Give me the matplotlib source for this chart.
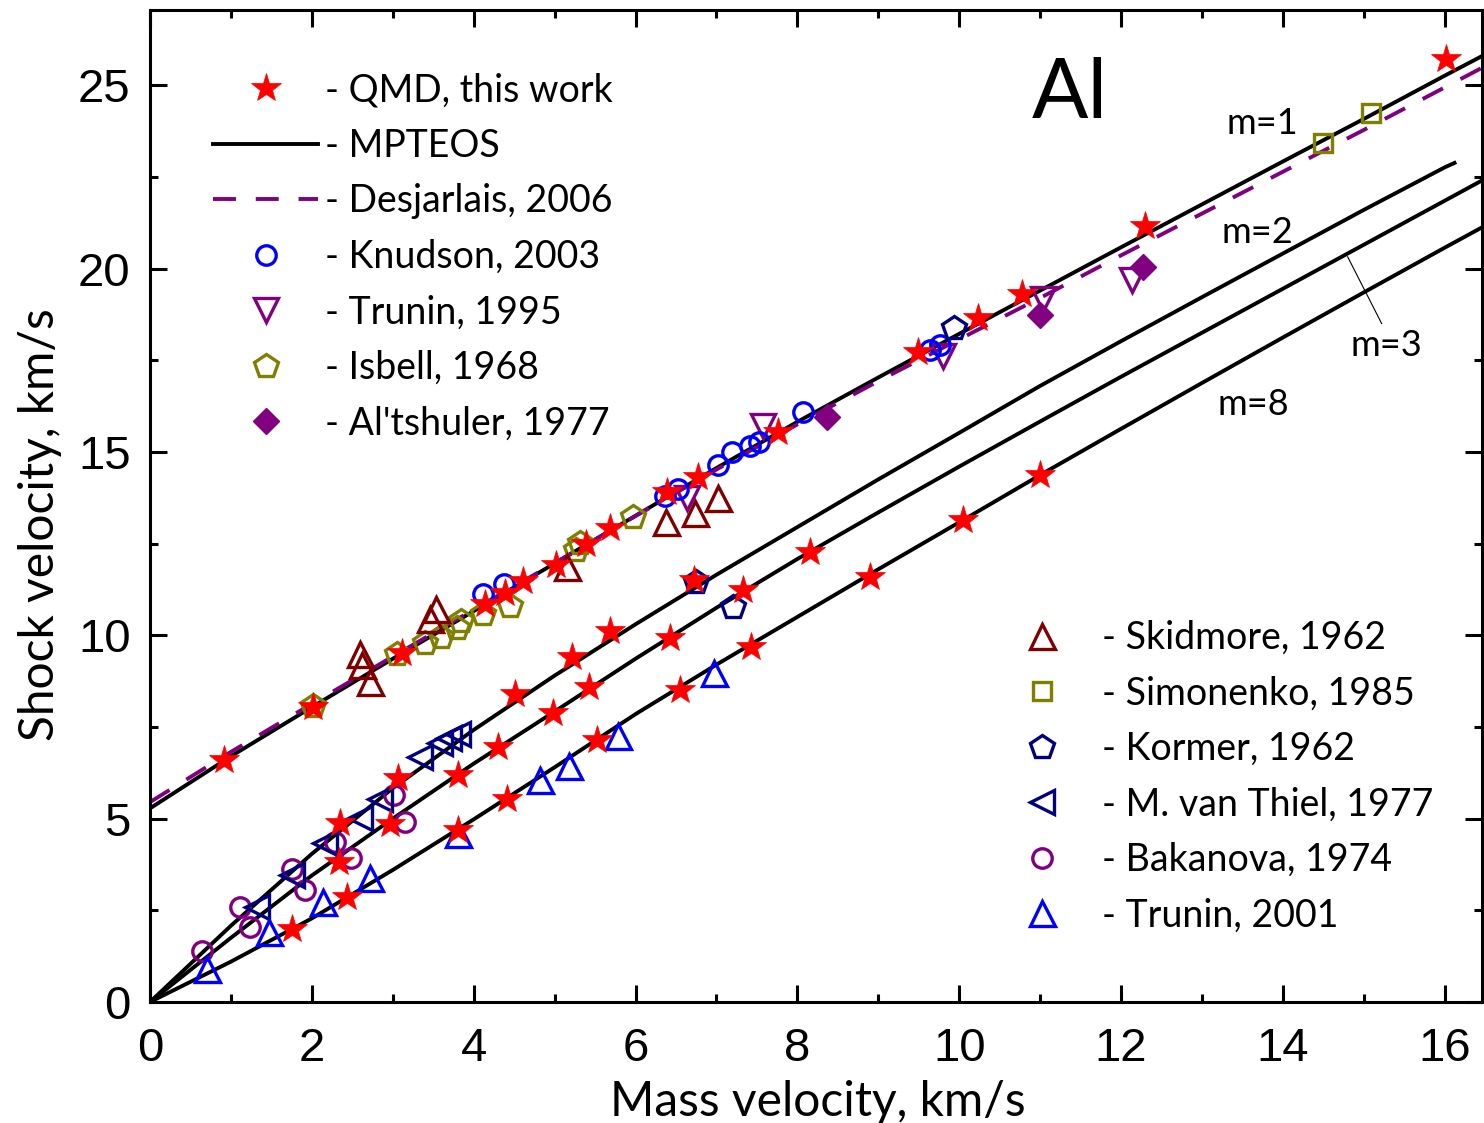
"""Al shock Hugoniot: shock velocity vs mass velocity, QMD vs MPTEOS and experiments."""

import matplotlib

matplotlib.use("Agg")
import matplotlib.pyplot as plt
from matplotlib.lines import Line2D

plt.rcParams["font.family"] = ["Lato", "DejaVu Sans"]

# ---------------------------------------------------------------- curves
# MPTEOS Hugoniots for porosity m = 1, 2, 3, 8 and Desjarlais (2006) QMD fit
U_GRID = [0, 1, 2, 3, 4, 5, 6, 7, 8, 9, 10, 11, 12, 13, 14, 15, 16, 16.5]
US_M1 = [5.28, 6.70, 8.04, 9.36, 10.66, 11.96, 13.26, 14.56, 15.82, 17.03,
         18.22, 19.40, 20.58, 21.75, 22.92, 24.08, 25.26, 25.84]
US_DESJ = [5.45, 6.82, 8.13, 9.42, 10.70, 11.97, 13.25, 14.52, 15.75, 16.93,
           18.07, 19.20, 20.36, 21.50, 22.64, 23.78, 24.94, 25.52]
U_M2 = [0, 1, 2, 3, 4, 5, 6, 7, 8, 9, 10, 11, 12, 13, 14, 15, 16, 16.12]
US_M2 = [0.0, 2.08, 4.04, 5.83, 7.42, 8.90, 10.30, 11.65, 12.95, 14.25,
         15.52, 16.80, 18.02, 19.22, 20.41, 21.60, 22.76, 22.88]
US_M3 = [0.0, 1.75, 3.45, 5.00, 6.50, 7.92, 9.36, 10.75, 12.08, 13.35,
         14.60, 15.83, 17.05, 18.25, 19.45, 20.65, 21.85, 22.45]
US_M8 = [0.0, 1.10, 2.28, 3.60, 4.98, 6.40, 7.85, 9.20, 10.50, 11.80,
         13.08, 14.37, 15.63, 16.88, 18.12, 19.35, 20.57, 21.17]

# ---------------------------------------------------------------- QMD points
QMD_U = [0.91, 2.02, 3.12, 4.14, 4.39, 4.61, 5.02, 5.39, 5.69, 6.39, 6.77,
         7.76, 9.49, 10.23, 10.77, 12.29, 16.02,
         2.35, 3.06, 4.51, 5.22, 5.68, 6.72,
         2.34, 2.97, 3.81, 4.30, 4.98, 5.42, 6.42, 7.33, 8.15,
         1.75, 2.43, 3.81, 4.41, 5.52, 6.55, 7.43, 8.90, 10.05, 11.00]
QMD_US = [6.60, 8.05, 9.53, 10.85, 11.16, 11.48, 11.91, 12.50, 12.93, 13.90, 14.32,
          15.53, 17.73, 18.64, 19.30, 21.17, 25.71,
          4.87, 6.10, 8.40, 9.41, 10.12, 11.50,
          3.81, 4.85, 6.20, 6.94, 7.87, 8.60, 9.93, 11.23, 12.28,
          2.00, 2.87, 4.69, 5.53, 7.14, 8.51, 9.69, 11.60, 13.14, 14.37]

# ---------------------------------------------------------------- experiments
KNUDSON_U = [4.12, 4.37, 6.36, 6.53, 7.02, 7.19, 7.42, 7.52, 8.07, 9.64, 9.76]
KNUDSON_US = [11.13, 11.41, 13.80, 14.00, 14.64, 15.00, 15.17, 15.28, 16.09, 17.78, 17.91]
TRUNIN95_U = [6.63, 7.58, 9.80, 11.04, 12.13]
TRUNIN95_US = [13.75, 15.70, 17.62, 19.18, 19.70]
ISBELL_U = [2.02, 3.05, 3.40, 3.60, 3.79, 3.84, 4.12, 4.45, 5.27, 5.31, 5.97]
ISBELL_US = [8.08, 9.48, 9.79, 9.95, 10.20, 10.40, 10.58, 10.80, 12.32, 12.51, 13.23]
ALTSHULER_U = [8.36, 11.00, 12.27]
ALTSHULER_US = [15.96, 18.73, 20.05]
SKIDMORE_U = [2.59, 2.62, 2.72, 3.46, 3.54, 5.15, 6.38, 6.73, 7.02]
SKIDMORE_US = [9.50, 9.19, 8.73, 10.45, 10.72, 11.87, 13.10, 13.33, 13.73]
SIMONENKO_U = [14.50, 15.09]
SIMONENKO_US = [23.41, 24.23]
KORMER_U = [6.75, 7.21, 9.93]
KORMER_US = [11.46, 10.76, 18.37]
VANTHIEL_U = [1.32, 1.75, 2.16, 2.60, 2.84, 3.34, 3.58, 3.70, 3.81]
VANTHIEL_US = [2.60, 3.46, 4.33, 5.03, 5.53, 6.67, 7.06, 7.20, 7.32]
BAKANOVA_U = [0.64, 1.11, 1.24, 1.75, 1.92, 2.29, 2.49, 3.01, 3.15]
BAKANOVA_US = [1.38, 2.60, 2.05, 3.64, 3.05, 4.37, 3.92, 5.64, 4.92]
TRUNIN01_U = [0.70, 1.47, 2.14, 2.72, 3.81, 4.82, 5.18, 5.78, 6.97]
TRUNIN01_US = [0.90, 1.92, 2.72, 3.37, 4.58, 6.05, 6.43, 7.25, 8.98]

X_TICKS = [0, 2, 4, 6, 8, 10, 12, 14, 16]
Y_TICKS = [0, 5, 10, 15, 20, 25]

RED = "#ff0000"
BLUE = "#0000ff"
NAVY = "#000080"
PURPLE = "#800080"
OLIVE = "#808000"
DARKRED = "#800000"

fig = plt.figure(figsize=(14.84, 11.23), dpi=100)
ax = fig.add_axes([150 / 1484, 1 - 1002 / 1123, 1332 / 1484, 992 / 1123])

# --- model curves ------------------------------------------------------
lw = 2.8
ax.plot(U_GRID, US_M1, color="black", lw=lw, zorder=2)
ax.plot(U_M2, US_M2, color="black", lw=lw, zorder=2)
ax.plot(U_GRID, US_M3, color="black", lw=lw, zorder=2)
ax.plot(U_GRID, US_M8, color="black", lw=lw, zorder=2)
ax.plot(U_GRID, US_DESJ, color=PURPLE, lw=lw, dashes=(5.9, 5.1), zorder=2)


def open_marker(marker, color, ms, mew=2.4):
    return dict(marker=marker, ls="none", ms=ms, mfc="none", mec=color, mew=mew)


styles = {
    "knudson": open_marker("o", BLUE, 14),
    "trunin95": open_marker("v", PURPLE, 17),
    "isbell": open_marker("p", OLIVE, 18),
    "altshuler": dict(marker="D", ls="none", ms=13, mfc=PURPLE, mec=PURPLE, mew=1),
    "skidmore": open_marker("^", DARKRED, 18),
    "simonenko": open_marker("s", OLIVE, 13),
    "kormer": open_marker("p", NAVY, 18),
    "vanthiel": open_marker("<", NAVY, 17),
    "bakanova": open_marker("o", PURPLE, 14),
    "trunin01": open_marker("^", BLUE, 18),
    "qmd": dict(marker="*", ls="none", ms=22, mfc=RED, mec=RED, mew=0.5),
}

ax.plot(ISBELL_U, ISBELL_US, zorder=3, **styles["isbell"])
ax.plot(SKIDMORE_U, SKIDMORE_US, zorder=3, **styles["skidmore"])
ax.plot(TRUNIN95_U, TRUNIN95_US, zorder=3, **styles["trunin95"])
ax.plot(KNUDSON_U, KNUDSON_US, zorder=3, **styles["knudson"])
ax.plot(ALTSHULER_U, ALTSHULER_US, zorder=3, **styles["altshuler"])
ax.plot(SIMONENKO_U, SIMONENKO_US, zorder=3, **styles["simonenko"])
ax.plot(KORMER_U, KORMER_US, zorder=3, **styles["kormer"])
ax.plot(BAKANOVA_U, BAKANOVA_US, zorder=3, **styles["bakanova"])
ax.plot(VANTHIEL_U, VANTHIEL_US, zorder=3, **styles["vanthiel"])
ax.plot(TRUNIN01_U, TRUNIN01_US, zorder=3, **styles["trunin01"])
ax.plot(QMD_U, QMD_US, zorder=4, **styles["qmd"])

# --- annotations -------------------------------------------------------
ax.text(11.37, 24.73, "Al", fontsize=60, ha="center", va="center")
lab_fs = 26
ax.text(13.74, 23.96, "m=1", fontsize=lab_fs, ha="center", va="center")
ax.text(13.68, 20.99, "m=2", fontsize=lab_fs, ha="center", va="center")
ax.text(15.28, 17.91, "m=3", fontsize=lab_fs, ha="center", va="center")
ax.text(13.63, 16.28, "m=8", fontsize=lab_fs, ha="center", va="center")
ax.plot([14.80, 15.22], [20.32, 18.50], color="black", lw=0.8, zorder=2)

# --- legends -----------------------------------------------------------
leg_kw = dict(frameon=False, fontsize=27, handlelength=2.8, handletextpad=0.19,
              labelspacing=0.52, borderpad=0, borderaxespad=0, loc="upper left")

h1 = [
    Line2D([], [], **styles["qmd"]),
    Line2D([], [], color="black", lw=lw),
    Line2D([], [], color=PURPLE, lw=lw, dashes=(5.9, 5.1)),
    Line2D([], [], **styles["knudson"]),
    Line2D([], [], **styles["trunin95"]),
    Line2D([], [], **styles["isbell"]),
    Line2D([], [], **styles["altshuler"]),
]
l1 = ["- QMD, this work", "- MPTEOS", "- Desjarlais, 2006", "- Knudson, 2003",
      "- Trunin, 1995", "- Isbell, 1968", "- Al'tshuler, 1977"]
leg1 = ax.legend(h1, l1, bbox_to_anchor=(0.0473, 0.937), **leg_kw)
ax.add_artist(leg1)

h2 = [
    Line2D([], [], **styles["skidmore"]),
    Line2D([], [], **styles["simonenko"]),
    Line2D([], [], **styles["kormer"]),
    Line2D([], [], **styles["vanthiel"]),
    Line2D([], [], **styles["bakanova"]),
    Line2D([], [], **styles["trunin01"]),
]
l2 = ["- Skidmore, 1962", "- Simonenko, 1985", "- Kormer, 1962",
      "- M. van Thiel, 1977", "- Bakanova, 1974", "- Trunin, 2001"]
ax.legend(h2, l2, bbox_to_anchor=(0.6306, 0.385), **leg_kw)

# --- axes --------------------------------------------------------------
ax.set_xlim(0, 16.46)
ax.set_ylim(0, 27.05)
ax.set_xticks(X_TICKS)
ax.set_yticks(Y_TICKS)
ax.set_xticks([1, 3, 5, 7, 9, 11, 13, 15], minor=True)
ax.set_yticks([2.5, 7.5, 12.5, 17.5, 22.5], minor=True)
ax.tick_params(which="both", direction="in", top=True, right=True, width=2.2,
               labelsize=34)
ax.tick_params(which="major", length=12)
ax.tick_params(which="minor", length=6)
ax.tick_params(axis="x", pad=18)
ax.tick_params(axis="y", pad=14)
for lab in ax.get_xticklabels() + ax.get_yticklabels():
    lab.set_fontfamily(["Liberation Sans", "DejaVu Sans"])
for sp in ax.spines.values():
    sp.set_linewidth(2.2)

ax.set_xlabel("Mass velocity, km/s", fontsize=34.5)
ax.set_ylabel("Shock velocity, km/s", fontsize=34.5)
ax.xaxis.set_label_coords(0.5015, -0.079)
ax.yaxis.set_label_coords(-0.066, 0.481)

fig.savefig("out.png", dpi=100)
